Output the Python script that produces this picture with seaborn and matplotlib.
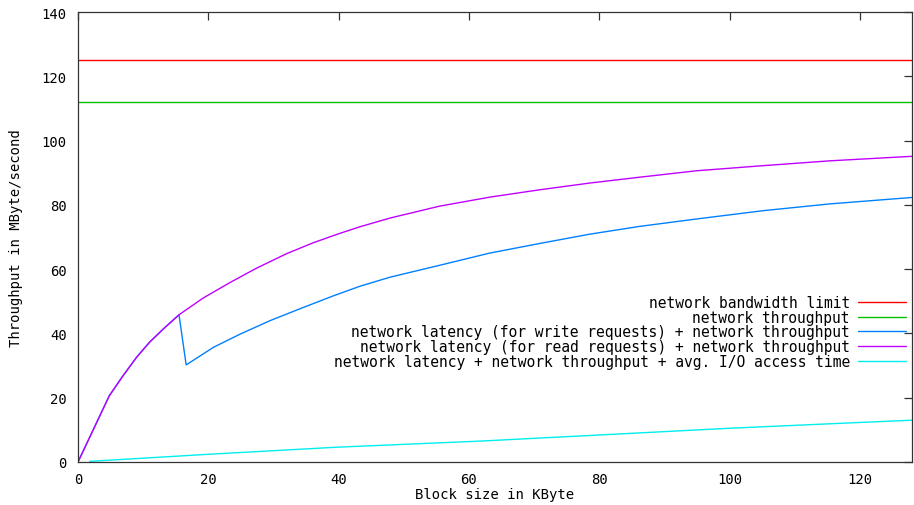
import matplotlib
matplotlib.use("Agg")
import matplotlib.pyplot as plt
import seaborn as sns
import pandas as pd

# ---- data ----
bw_limit_x = [0, 128]
bw_limit_y = [125, 125]

net_tp_x = [0, 128]
net_tp_y = [112, 112]

write_x = [0, 4.8, 6.9, 9.0, 11.0, 13.1, 15.5, 16.6, 20.8, 24.9, 29.5, 34.6, 39.2,
           43.3, 47.9, 55.5, 63.2, 70.9, 78.6, 86.2, 94.9, 105.2, 115.4, 128]
write_y = [0, 20.6, 26.8, 32.6, 37.3, 41.4, 45.8, 30.2, 35.7, 39.8, 44.0, 48.1, 51.7,
           54.7, 57.5, 61.2, 65.0, 68.0, 70.9, 73.3, 75.6, 78.2, 80.3, 82.3]

read_x = [0, 4.8, 6.9, 9.0, 11.0, 13.1, 15.5, 19.2, 23.3, 27.4, 32.0, 36.1, 39.7,
          43.3, 47.9, 55.5, 63.2, 70.9, 78.6, 86.2, 94.9, 105.2, 115.4, 128]
read_y = [0, 20.6, 26.8, 32.6, 37.3, 41.4, 45.8, 51.0, 55.8, 60.3, 64.8, 68.2, 70.8,
          73.2, 75.9, 79.6, 82.4, 84.7, 86.8, 88.6, 90.6, 92.2, 93.7, 95.1]

io_x = [1.8, 20, 39.7, 61.7, 80, 100, 120, 128]
io_y = [0.2, 2.4, 4.6, 6.5, 8.4, 10.5, 12.3, 13.0]

labels = [
    "network bandwidth limit",
    "network throughput",
    "network latency (for write requests) + network throughput",
    "network latency (for read requests) + network throughput",
    "network latency + network throughput + avg. I/O access time",
]
colors = ["#ff0000", "#00c000", "#0080ff", "#c000ff", "#00eeee"]
x_ticks = [0, 20, 40, 60, 80, 100, 120]
y_ticks = [0, 20, 40, 60, 80, 100, 120, 140]

series = [(bw_limit_x, bw_limit_y), (net_tp_x, net_tp_y), (write_x, write_y),
          (read_x, read_y), (io_x, io_y)]

frames = []
for lab, (xs, ys) in zip(labels, series):
    frames.append(pd.DataFrame({"x": xs, "y": ys, "series": lab}))
df = pd.concat(frames, ignore_index=True)

# ---- style ----
sns.set_style("white")
plt.rcParams["font.family"] = ["DejaVu Sans Mono"]
plt.rcParams["font.size"] = 10
plt.rcParams["text.color"] = "black"
plt.rcParams["axes.labelcolor"] = "black"
plt.rcParams["xtick.color"] = "black"
plt.rcParams["ytick.color"] = "black"

fig = plt.figure(figsize=(9.14, 5.06), dpi=100)
ax = fig.add_axes([78 / 914, 1 - 463 / 506, 834 / 914, 450 / 506])

for lab, col in zip(labels, colors):
    sub = df[df["series"] == lab]
    sns.lineplot(data=sub, x="x", y="y", color=col, linewidth=1.0,
                 estimator=None, sort=False, label=lab, ax=ax)

ax.set_xlim(0, 128)
ax.set_ylim(0, 140)
ax.set_xticks(x_ticks)
ax.set_yticks(y_ticks)
ax.tick_params(direction="in", length=6, width=0.9, color="#333333",
               top=True, right=True, labelsize=10, labelcolor="black")
ax.tick_params(axis="y", pad=8)
ax.tick_params(axis="x", pad=7)
for sp in ax.spines.values():
    sp.set_visible(True)
    sp.set_color("#333333")
    sp.set_linewidth(0.9)

ax.set_xlabel("Block size in KByte", fontsize=10, color="black")
ax.set_ylabel("Throughput in MByte/second", fontsize=10, color="black")
ax.xaxis.set_label_coords(0.5, -0.056)
ax.yaxis.set_label_coords(-0.066, 0.5)

leg = ax.legend(loc="upper right", bbox_to_anchor=(906 / 914, 1 - 296 / 506),
                bbox_transform=fig.transFigure, frameon=False, markerfirst=False,
                handlelength=3.3, handletextpad=0.55, labelspacing=-0.02,
                borderpad=0, borderaxespad=0, fontsize=10.5, labelcolor="black")

fig.savefig("out.png", dpi=100)
